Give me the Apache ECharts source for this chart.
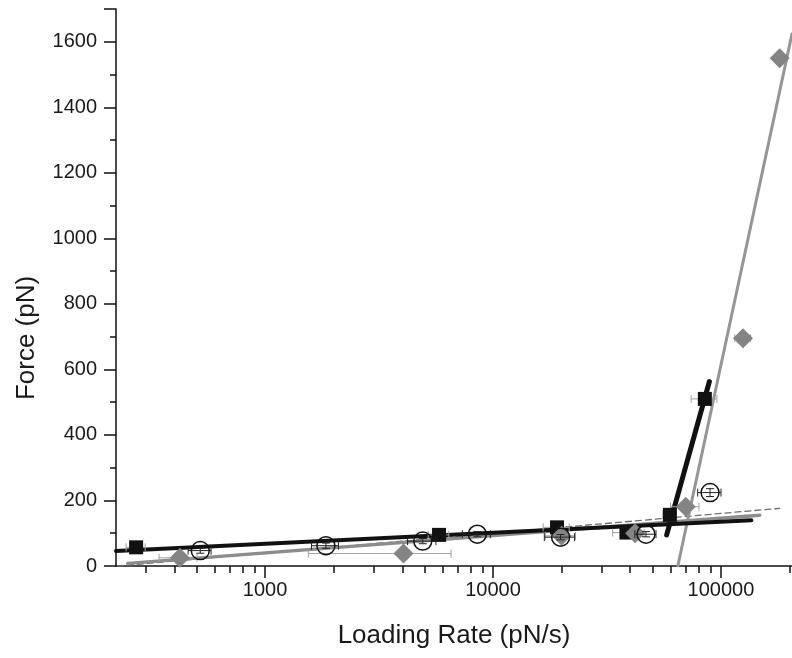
<!DOCTYPE html>
<html>
<head>
<meta charset="utf-8">
<script src="https://cdn.jsdelivr.net/npm/echarts@6/dist/echarts.min.js"></script>
<style>
html,body{margin:0;padding:0;background:#fff;}
#c{width:792px;height:658px;}
</style>
</head>
<body>
<div id="c"></div>
<script>
// ---- data ----
const xMajorTicks = [1000, 10000, 100000];
const xMinorTicks = [300, 400, 500, 600, 700, 800, 900,
  2000, 3000, 4000, 5000, 6000, 7000, 8000, 9000,
  20000, 30000, 40000, 50000, 60000, 70000, 80000, 90000, 200000];

const squareRate = [272, 5800, 19100, 38500, 59700, 85000];
const squareForce = [57, 95, 118, 102, 156, 510];
const squareRateErr = [26, 600, 2500, 5000, 4000, 11000];
const squareForceErr = [5, 6, 8, 8, 20, 15];

const circleRate = [520, 1850, 4920, 8540, 19800, 46900, 89600];
const circleForce = [47, 62, 76, 97, 88, 97, 224];
const circleRateErr = [60, 250, 700, 1200, 3000, 5000, 10500];
const circleForceErr = [8, 8, 8, 8, 8, 8, 12];

const diamondRate = [423, 4050, 20000, 42000, 70100, 125000, 181000];
const diamondForce = [25, 38, 92, 100, 181, 695, 1550];
const diamondRateErr = [80, 2500, 3000, 4000, 10000, 10000, 8000];
const diamondForceErr = [5, 5, 8, 8, 10, 15, 10];

const fitBlackLow = [[222, 46], [136000, 140]];
const fitBlackSteep = [[57800, 95], [89000, 563]];
const fitGrayLow = [[250, 8], [148000, 155]];
const fitGraySteep = [[64700, 0], [205000, 1624]];
const fitDashed = [[225, 0], [181000, 176]];

const xTitle = 'Loading Rate (pN/s)';
const yTitle = 'Force (pN)';

// ---- helpers ----
function pts(xs, ys) { return xs.map((x, i) => [x, ys[i]]); }
function errData(xs, ys, ex, ey) { return xs.map((x, i) => [x, ys[i], ex[i], ey[i]]); }
function errSeries(data, color, z) {
  return {
    type: 'custom', data: data, z: z, clip: false, silent: true,
    encode: { x: 0, y: 1 },
    renderItem: function (params, api) {
      const x = api.value(0), y = api.value(1), ex = api.value(2), ey = api.value(3);
      const l = api.coord([x - ex, y]), r = api.coord([x + ex, y]);
      const b = api.coord([x, y - ey]), t = api.coord([x, y + ey]);
      const cap = 4;
      const st = { stroke: color, lineWidth: 1 };
      return {
        type: 'group', children: [
          { type: 'line', shape: { x1: l[0], y1: l[1], x2: r[0], y2: r[1] }, style: st },
          { type: 'line', shape: { x1: l[0], y1: l[1] - cap, x2: l[0], y2: l[1] + cap }, style: st },
          { type: 'line', shape: { x1: r[0], y1: r[1] - cap, x2: r[0], y2: r[1] + cap }, style: st },
          { type: 'line', shape: { x1: b[0], y1: b[1], x2: t[0], y2: t[1] }, style: st },
          { type: 'line', shape: { x1: b[0] - cap, y1: b[1], x2: b[0] + cap, y2: b[1] }, style: st },
          { type: 'line', shape: { x1: t[0] - cap, y1: t[1], x2: t[0] + cap, y2: t[1] }, style: st }
        ]
      };
    }
  };
}
function fitLine(data, color, width, type, z) {
  return {
    type: 'line', data: data, showSymbol: false, symbol: 'none', z: z, silent: true,
    lineStyle: { color: color, width: width, type: type || 'solid', cap: 'round' }
  };
}
const plain = v => String(v);

const FONT = '"Liberation Sans", Arial, sans-serif';
const chart = echarts.init(document.getElementById('c'), null, { renderer: 'canvas' });
chart.setOption({
  animation: false,
  backgroundColor: '#fff',
  grid: { left: 116, right: 0, top: 9, bottom: 92 },
  graphic: [{
    type: 'text', x: 27, y: 338, rotation: Math.PI / 2, silent: true,
    style: { text: yTitle, font: '26px ' + FONT, fill: '#1a1a1a', textAlign: 'center', textVerticalAlign: 'middle' }
  }],
  xAxis: [{
    type: 'log', logBase: 10, min: 222, max: 205000,
    name: xTitle, nameLocation: 'middle', nameGap: 57,
    nameTextStyle: { fontFamily: FONT, fontSize: 26, color: '#1a1a1a' },
    axisLine: { lineStyle: { color: '#111', width: 1.5 } },
    axisTick: { show: true, inside: false, length: 12, customValues: xMajorTicks, lineStyle: { color: '#111', width: 1.5 } },
    axisLabel: { customValues: xMajorTicks, formatter: plain, margin: 14, fontFamily: FONT, fontSize: 20, color: '#1a1a1a' },
    splitLine: { show: false }
  }, {
    type: 'log', logBase: 10, min: 222, max: 205000, position: 'bottom',
    axisLine: { show: false },
    axisTick: { show: true, inside: false, length: 7, customValues: xMinorTicks, lineStyle: { color: '#111', width: 1.5 } },
    axisLabel: { show: false },
    splitLine: { show: false }
  }],
  yAxis: {
    type: 'value', min: 0, max: 1700, interval: 200,
    axisLine: { show: true, lineStyle: { color: '#111', width: 1.5 } },
    axisTick: { show: true, inside: false, length: 12, lineStyle: { color: '#111', width: 1.5 } },
    minorTick: { show: true, splitNumber: 2, length: 6, lineStyle: { color: '#111', width: 1.5 } },
    axisLabel: { margin: 19, formatter: plain, fontFamily: FONT, fontSize: 20, color: '#1a1a1a', showMaxLabel: false },
    splitLine: { show: false }
  },
  series: [
    fitLine(fitDashed, '#6e6e6e', 1.3, [6, 4], 2),
    fitLine(fitGrayLow, '#8c8c8c', 3.5, 'solid', 3),
    fitLine(fitGraySteep, '#959595', 3, 'solid', 3),
    fitLine(fitBlackLow, '#111', 4, 'solid', 4),
    fitLine(fitBlackSteep, '#111', 5, 'solid', 4),
    errSeries(errData(squareRate, squareForce, squareRateErr, squareForceErr), '#a0a0a0', 5),
    errSeries(errData(diamondRate, diamondForce, diamondRateErr, diamondForceErr), '#a0a0a0', 5),
    errSeries(errData(circleRate, circleForce, circleRateErr, circleForceErr), '#222', 7),
    {
      type: 'scatter', data: pts(squareRate, squareForce), symbol: 'rect', symbolSize: 14, z: 6, silent: true,
      itemStyle: { color: '#111', opacity: 1 }
    },
    {
      type: 'scatter', data: pts(diamondRate, diamondForce), symbol: 'diamond', symbolSize: [20, 20], z: 6, silent: true,
      itemStyle: { color: '#848484', opacity: 1 }
    },
    {
      type: 'scatter', data: pts(circleRate, circleForce), symbol: 'circle', symbolSize: 18, z: 8, silent: true,
      itemStyle: { color: 'rgba(255,255,255,0)', borderColor: '#111', borderWidth: 1.5, opacity: 1 }
    }
  ]
});
</script>
</body>
</html>
